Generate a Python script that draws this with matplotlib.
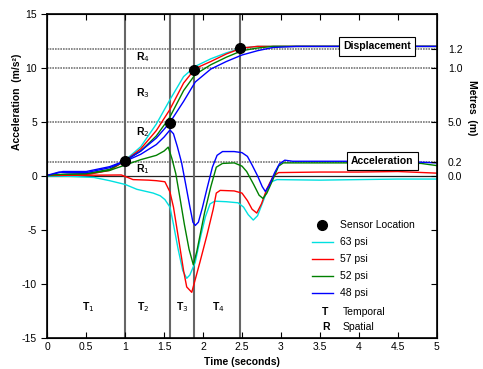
import numpy as np
import matplotlib.pyplot as plt
from matplotlib.lines import Line2D

plt.rcParams['font.family'] = ['Liberation Sans', 'DejaVu Sans']
plt.rcParams['axes.unicode_minus'] = False

# displacement curves (plotted in left-axis units)
t_disp = [0, 0.2, 0.5, 0.8, 1.0, 1.2, 1.4, 1.57, 1.75, 1.9, 2.1, 2.3, 2.5, 2.7, 2.9, 3.2, 4.0, 5.0]
disp_63 = [0, 0.02, 0.1, 0.55, 1.45, 2.7, 4.8, 7.0, 9.2, 10.15, 10.85, 11.4, 11.85, 12.0, 12.0, 12.0, 12.0, 12.0]
disp_57 = [0, 0.05, 0.1, 0.5, 1.4, 2.5, 4.2, 6.1, 8.6, 9.95, 10.6, 11.3, 11.85, 12.0, 12.0, 12.0, 12.0, 12.0]
disp_52 = [0, 0.1, 0.2, 0.6, 1.4, 2.3, 3.7, 5.4, 7.9, 9.4, 10.3, 11.0, 11.6, 11.85, 12.0, 12.0, 12.0, 12.0]
disp_48 = [0, 0.4, 0.4, 0.85, 1.4, 2.3, 3.5, 4.9, 6.9, 8.7, 9.9, 10.6, 11.2, 11.6, 11.9, 12.0, 12.0, 12.0]

# acceleration curves
t_acc_63 = [0, 0.3, 0.6, 0.8, 1.0, 1.15, 1.36, 1.45, 1.51, 1.575, 1.62, 1.68, 1.74, 1.79, 1.83, 1.9,
            1.97, 2.03, 2.09, 2.15, 2.3, 2.45, 2.52, 2.58, 2.645, 2.7, 2.78, 2.86, 2.95, 3.5, 4.0, 4.5, 5.0]
acc_63 = [0, -0.05, -0.15, -0.45, -0.8, -1.25, -1.6, -1.85, -2.2, -2.9, -4.5, -6.8, -8.8, -9.5, -9.2, -8.0,
          -5.6, -3.8, -2.6, -2.35, -2.4, -2.5, -2.9, -3.6, -4.1, -3.7, -2.2, -0.6, -0.35, -0.4, -0.35, -0.3, -0.3]

t_acc_57 = [0, 0.5, 0.95, 1.05, 1.1, 1.3, 1.4, 1.51, 1.575, 1.62, 1.7, 1.75, 1.79, 1.855, 1.9, 1.96,
            2.05, 2.13, 2.17, 2.22, 2.4, 2.5, 2.57, 2.63, 2.69, 2.75, 2.82, 2.9, 2.97, 3.5, 4.0, 4.5, 5.0]
acc_57 = [0.05, 0.05, 0.08, -0.2, -0.35, -0.4, -0.45, -0.55, -1.5, -2.9, -6.5, -8.8, -10.3, -10.8, -9.6, -8.0,
          -5.5, -3.1, -1.6, -1.35, -1.4, -1.6, -2.3, -3.1, -3.45, -2.6, -1.2, -0.05, 0.3, 0.35, 0.35, 0.4, 0.25]

t_acc_52 = [0, 0.2, 0.5, 0.8, 1.0, 1.2, 1.4, 1.5, 1.553, 1.6, 1.65, 1.7, 1.76, 1.82, 1.875, 1.92, 1.97,
            2.02, 2.1, 2.17, 2.25, 2.4, 2.5, 2.56, 2.65, 2.72, 2.77, 2.82, 2.9, 2.97, 3.03, 3.5, 4.0, 4.5, 4.8, 5.0]
acc_52 = [0.05, 0.15, 0.2, 0.5, 1.0, 1.5, 1.9, 2.3, 2.66, 1.6, 0.2, -1.9, -4.5, -6.8, -8.25, -7.0, -5.2,
          -3.4, -1.0, 0.8, 1.15, 1.2, 0.9, 0.4, -0.8, -1.8, -2.1, -1.6, -0.3, 0.9, 1.2, 1.2, 1.2, 1.2, 1.15, 0.95]

t_acc_48 = [0, 0.15, 0.25, 0.5, 0.8, 1.0, 1.2, 1.4, 1.5, 1.575, 1.62, 1.67, 1.725, 1.78, 1.83, 1.87, 1.9,
            1.94, 1.99, 2.05, 2.12, 2.18, 2.25, 2.4, 2.5, 2.57, 2.63, 2.7, 2.76, 2.8, 2.85, 2.92, 2.98,
            3.05, 3.15, 3.5, 4.0, 4.5, 5.0]
acc_48 = [0.05, 0.35, 0.3, 0.3, 0.75, 1.35, 2.0, 2.9, 3.6, 4.25, 3.9, 2.7, 1.2, -0.9, -2.85, -4.3, -4.6,
          -4.3, -3.0, -1.2, 0.8, 1.9, 2.25, 2.25, 2.15, 1.8, 1.0, 0.0, -1.0, -1.45, -0.9, 0.3, 1.1,
          1.45, 1.35, 1.35, 1.35, 1.35, 1.2]

sensor_t = [1.0, 1.57, 1.88, 2.47]
sensor_y = [1.4, 4.9, 9.85, 11.85]

region_t = [1.0, 1.57, 1.88, 2.47]
region_y = [1.3, 5.0, 10.0, 11.8]

right_ticks = [11.8, 10.0, 5.0, 1.3, 0.0, -5, -10]
right_labels = ['1.2', '1.0', '5.0', '0.2', '0.0', '', '']

colors = {'63 psi': '#00e0e0', '57 psi': '#ff0000', '52 psi': '#008000', '48 psi': '#0000ff'}

fig = plt.figure(figsize=(4.83, 3.69), dpi=100)
ax = fig.add_axes([0.098, 0.085, 0.806, 0.877])

for y in region_y:
    ax.axhline(y, color='#777777', lw=1.2, ls=(0, (1, 0.6)), zorder=1)
ax.axhline(0, color='#222222', lw=0.9, zorder=1)
for t in region_t:
    ax.axvline(t, color='#666666', lw=1.5, zorder=1)

ax.plot(t_disp, disp_63, color=colors['63 psi'], lw=1)
ax.plot(t_disp, disp_57, color=colors['57 psi'], lw=1)
ax.plot(t_disp, disp_52, color=colors['52 psi'], lw=1)
ax.plot(t_disp, disp_48, color=colors['48 psi'], lw=1)
ax.plot(t_acc_63, acc_63, color=colors['63 psi'], lw=1)
ax.plot(t_acc_57, acc_57, color=colors['57 psi'], lw=1)
ax.plot(t_acc_52, acc_52, color=colors['52 psi'], lw=1)
ax.plot(t_acc_48, acc_48, color=colors['48 psi'], lw=1)
ax.plot(sensor_t, sensor_y, 'o', color='black', ms=7, zorder=5)

ax.set_xlim(0, 5)
ax.set_ylim(-15, 15)
ax.set_xticks(np.arange(0, 5.01, 0.5))
ax.set_xticklabels(['0', '0.5', '1', '1.5', '2', '2.5', '3', '3.5', '4', '4.5', '5'])
ax.set_yticks([-15, -10, -5, 0, 5, 10, 15])
ax.tick_params(axis='x', direction='in', top=True, labelsize=7.5, length=4, pad=3)
ax.tick_params(axis='y', direction='out', labelsize=7.5, length=4)
for s in ax.spines.values():
    s.set_linewidth(1.2)

ax.set_xlabel('Time (seconds)', fontsize=7.5, fontweight='bold', labelpad=4)
ax.set_ylabel('Acceleration  (m/s²)', fontsize=7.5, fontweight='bold')
ax.yaxis.set_label_coords(-0.065, 0.73)

ax2 = ax.twinx()
ax2.set_ylim(-15, 15)
ax2.set_yticks(right_ticks)
ax2.set_yticklabels(right_labels)
ax2.tick_params(axis='y', direction='in', labelsize=7.5, length=4, pad=8)
ax2.text(1.09, 0.71, 'Metres  (m)', transform=ax.transAxes, rotation=270,
         ha='center', va='center', fontsize=7.5, fontweight='bold')

# region labels
for lbl, x, y in [('R$_4$', 1.23, 11.0), ('R$_3$', 1.23, 7.7), ('R$_2$', 1.23, 4.1), ('R$_1$', 1.23, 0.6),
                  ('T$_1$', 0.52, -12.2), ('T$_2$', 1.23, -12.2), ('T$_3$', 1.73, -12.2), ('T$_4$', 2.2, -12.2)]:
    ax.text(x, y, lbl, fontsize=7.5, fontweight='bold', ha='center', va='center')

box = dict(boxstyle='square,pad=0.4', fc='white', ec='black', lw=0.8)
ax.text(4.23, 12.0, 'Displacement', fontsize=7.5, fontweight='bold', ha='center', va='center', bbox=box)
ax.text(4.3, 1.4, 'Acceleration', fontsize=7.5, fontweight='bold', ha='center', va='center', bbox=box)

handles = [Line2D([], [], marker='o', color='black', ls='none', ms=7)]
handles += [Line2D([], [], color=c, lw=1) for c in colors.values()]
ax.legend(handles, ['Sensor Location'] + list(colors.keys()), loc='upper left',
          bbox_to_anchor=(0.655, 0.392), frameon=False, fontsize=7.5,
          handlelength=2.0, labelspacing=0.68, handletextpad=0.7)
ax.text(0.706, 0.079, 'T', transform=ax.transAxes, fontsize=7.5, fontweight='bold', va='center')
ax.text(0.759, 0.079, 'Temporal', transform=ax.transAxes, fontsize=7.5, va='center')
ax.text(0.706, 0.033, 'R', transform=ax.transAxes, fontsize=7.5, fontweight='bold', va='center')
ax.text(0.759, 0.033, 'Spatial', transform=ax.transAxes, fontsize=7.5, va='center')

fig.savefig('out.png', dpi=100)
